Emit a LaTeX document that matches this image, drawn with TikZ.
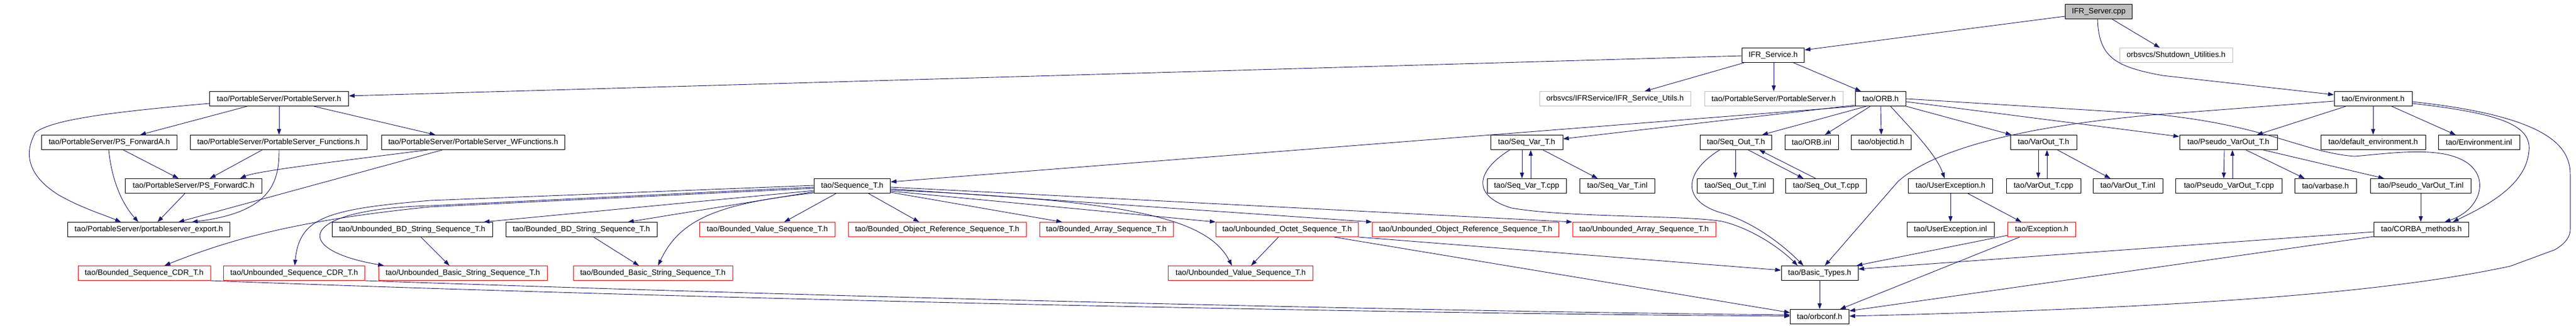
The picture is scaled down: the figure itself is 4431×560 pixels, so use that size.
\documentclass[tikz,border=0pt]{standalone}
\usepackage{fontspec}
\setmainfont{Liberation Sans}
\usetikzlibrary{arrows.meta}
\definecolor{edgec}{HTML}{191970}
\definecolor{grayc}{HTML}{BFBFBF}
\begin{document}
\begin{tikzpicture}[x=1pt,y=-1pt,
  box/.style={draw=black, line width=1pt, fill=white, minimum height=25pt, inner sep=0pt, font=\fontsize{13.3pt}{15pt}\selectfont},
  redbox/.style={box, draw=red},
  graybox/.style={box, draw=grayc},
  rootbox/.style={box, fill=grayc},
  dep/.style={draw=edgec, line width=0.9pt, -{Triangle[length=10pt,width=7pt]}},
]
\useasboundingbox (0,0) rectangle (4431,560);
\fill[white] (0,0) rectangle (4431,560);

% rank 0-2
\node[rootbox, minimum width=115pt] (server) at (3610,20) {IFR\_Server.cpp};
\node[box, minimum width=107pt] (svc) at (3050,95) {IFR\_Service.h};
\node[graybox, minimum width=194pt] (shut) at (3743,95) {orbsvcs/Shutdown\_Utilities.h};
\node[box, minimum width=239pt] (ps) at (480,170) {tao/PortableServer/PortableServer.h};
\node[graybox, minimum width=260pt] (utils) at (2778,170) {orbsvcs/IFRService/IFR\_Service\_Utils.h};
\node[graybox, minimum width=238pt] (psg) at (3051,170) {tao/PortableServer/PortableServer.h};
\node[box, minimum width=87pt] (orb) at (3235,170) {tao/ORB.h};
\node[box, minimum width=134pt] (env) at (4082,170) {tao/Environment.h};
% rank 3
\node[box, minimum width=233pt] (psfa) at (188,245) {tao/PortableServer/PS\_ForwardA.h};
\node[box, minimum width=304pt] (psfun) at (479,245) {tao/PortableServer/PortableServer\_Functions.h};
\node[box, minimum width=315pt] (pswf) at (814,245) {tao/PortableServer/PortableServer\_WFunctions.h};
\node[box, minimum width=124pt] (svar) at (2626,245) {tao/Seq\_Var\_T.h};
\node[box, minimum width=123pt] (sout) at (2986,245) {tao/Seq\_Out\_T.h};
\node[box, minimum width=92pt] (orbinl) at (3116,245) {tao/ORB.inl};
\node[box, minimum width=103pt] (oid) at (3236,245) {tao/objectid.h};
\node[box, minimum width=114pt] (vout) at (3515,245) {tao/VarOut\_T.h};
\node[box, minimum width=168pt] (pvout) at (3833,245) {tao/Pseudo\_VarOut\_T.h};
\node[box, minimum width=180pt] (defenv) at (4082,245) {tao/default\_environment.h};
\node[box, minimum width=140pt] (envinl) at (4264,245) {tao/Environment.inl};
% rank 4
\node[box, minimum width=235pt] (psfc) at (333,320) {tao/PortableServer/PS\_ForwardC.h};
\node[box, minimum width=131pt] (seqT) at (1466,320) {tao/Sequence\_T.h};
\node[box, minimum width=136pt] (svarcpp) at (2626,320) {tao/Seq\_Var\_T.cpp};
\node[box, minimum width=129pt] (svarinl) at (2782,320) {tao/Seq\_Var\_T.inl};
\node[box, minimum width=131pt] (soutinl) at (2985,320) {tao/Seq\_Out\_T.inl};
\node[box, minimum width=139pt] (soutcpp) at (3141,320) {tao/Seq\_Out\_T.cpp};
\node[box, minimum width=145pt] (uex) at (3355,320) {tao/UserException.h};
\node[box, minimum width=128pt] (voutcpp) at (3515,320) {tao/VarOut\_T.cpp};
\node[box, minimum width=120pt] (voutinl) at (3660,320) {tao/VarOut\_T.inl};
\node[box, minimum width=183pt] (pvcpp) at (3834,320) {tao/Pseudo\_VarOut\_T.cpp};
\node[box, minimum width=106pt] (vbase) at (4000,320) {tao/varbase.h};
\node[box, minimum width=173pt] (pvinl) at (4164,320) {tao/Pseudo\_VarOut\_T.inl};
% rank 5
\node[box, minimum width=279pt] (exp) at (256,395) {tao/PortableServer/portableserver\_export.h};
\node[box, minimum width=276pt] (ubds) at (709,395) {tao/Unbounded\_BD\_String\_Sequence\_T.h};
\node[box, minimum width=260pt] (bbds) at (1000,395) {tao/Bounded\_BD\_String\_Sequence\_T.h};
\node[redbox, minimum width=233pt] (bval) at (1320,395) {tao/Bounded\_Value\_Sequence\_T.h};
\node[redbox, minimum width=306pt] (bobj) at (1612,395) {tao/Bounded\_Object\_Reference\_Sequence\_T.h};
\node[redbox, minimum width=230pt] (barr) at (1903,395) {tao/Bounded\_Array\_Sequence\_T.h};
\node[redbox, minimum width=245pt] (uoct) at (2214,395) {tao/Unbounded\_Octet\_Sequence\_T.h};
\node[redbox, minimum width=321pt] (uobj) at (2521,395) {tao/Unbounded\_Object\_Reference\_Sequence\_T.h};
\node[redbox, minimum width=246pt] (uarr) at (2828,395) {tao/Unbounded\_Array\_Sequence\_T.h};
\node[box, minimum width=150pt] (uexinl) at (3355,395) {tao/UserException.inl};
\node[redbox, minimum width=117pt] (exc) at (3512,395) {tao/Exception.h};
\node[box, minimum width=163pt] (corba) at (4165,395) {tao/CORBA\_methods.h};
% rank 6
\node[redbox, minimum width=228pt] (bcdr) at (248,470) {tao/Bounded\_Sequence\_CDR\_T.h};
\node[redbox, minimum width=243pt] (ucdr) at (506,470) {tao/Unbounded\_Sequence\_CDR\_T.h};
\node[redbox, minimum width=290pt] (ubs) at (796,470) {tao/Unbounded\_Basic\_String\_Sequence\_T.h};
\node[redbox, minimum width=274pt] (bbs) at (1123,470) {tao/Bounded\_Basic\_String\_Sequence\_T.h};
\node[redbox, minimum width=249pt] (uval) at (2134,470) {tao/Unbounded\_Value\_Sequence\_T.h};
\node[box, minimum width=132pt] (btypes) at (3130,470) {tao/Basic\_Types.h};
% rank 7
\node[box, minimum width=101pt] (orbconf) at (3130,545) {tao/orbconf.h};

% IFR_Server.cpp
\draw[dep] ([yshift=-8pt]server.west) -- ([yshift=9pt]svc.east);
\draw[dep] ([xshift=23pt]server.south) -- ([xshift=-28pt]shut.north);
\draw[dep] ([xshift=-2pt]server.south) .. controls (3610,100) and (3640,115) .. (3720,130) -- ([yshift=7pt]env.west);
% IFR_Service.h
\draw[dep] ([yshift=-1pt]svc.west) -- ([yshift=5pt]ps.east);
\draw[dep] ([xshift=-50pt]svc.south) -- ([xshift=51pt]utils.north);
\draw[dep] ([xshift=1pt]svc.south) -- (psg.north);
\draw[dep] ([xshift=35pt]svc.south) -- ([xshift=-34pt]orb.north);
% PortableServer.h
\draw[dep] ([yshift=-8pt]ps.west) .. controls (200,192) and (90,205) .. (61,228) .. controls (42,262) and (45,300) .. (100,335) .. controls (140,358) and (180,370) .. ([xshift=-48pt]exp.north);
\draw[dep] ([xshift=-55pt]ps.south) -- ([xshift=53pt]psfa.north);
\draw[dep] (ps.south) -- ([xshift=1pt]psfun.north);
\draw[dep] ([xshift=60pt]ps.south) -- ([xshift=-65pt]pswf.north);
\draw[dep] ([xshift=24pt]psfa.south) -- ([xshift=-26pt]psfc.north);
\draw[dep] ([xshift=-1pt]psfa.south) .. controls (191,300) and (205,345) .. ([xshift=-18pt]exp.north);
\draw[dep] ([xshift=-28pt]psfun.south) -- ([xshift=28pt]psfc.north);
\draw[dep] ([xshift=1pt]psfun.south) .. controls (480,310) and (470,365) .. ([xshift=74pt]exp.north);
\draw[dep] ([xshift=-78pt]pswf.south) .. controls (560,280) and (440,295) .. ([xshift=80pt]psfc.north);
\draw[dep] ([xshift=-53pt]pswf.south) -- ([xshift=51pt]exp.north);
\draw[dep] ([xshift=-15pt]psfc.south) -- ([xshift=15pt]exp.north);
% ORB.h
\draw[dep] ([yshift=-11pt]orb.west) -- ([yshift=6pt]svar.east);
\draw[dep] (orb.south west) -- ([yshift=7pt]seqT.east);
\draw[dep] ([xshift=-25pt]orb.south) -- ([xshift=45pt]sout.north);
\draw[dep] ([xshift=-18pt]orb.south) -- ([xshift=23pt]orbinl.north);
\draw[dep] (orb.south) -- (oid.north);
\draw[dep] ([xshift=17pt]orb.south) .. controls (3290,225) and (3330,265) .. ([xshift=-10pt]uex.north);
\draw[dep] (orb.south east) -- ([xshift=-55pt]vout.north);
\draw[dep] ([yshift=-5pt]orb.east) -- ([yshift=10pt]pvout.west);
\draw[dep] (orb.east) -- (3700,196) .. controls (3900,215) and (3960,262) .. (4050,269) .. controls (4110,264) and (4190,252) .. (4235,275) .. controls (4285,300) and (4270,360) .. ([xshift=40pt]corba.north);
% Environment.h
\draw[dep] ([yshift=-4pt]env.west) -- (3700,198) .. controls (3480,218) and (3330,255) .. (3265,312) -- ([xshift=9pt]btypes.north);
\draw[dep] ([xshift=-47pt]env.south) -- ([xshift=49pt]pvout.north);
\draw[dep] (env.south) -- (defenv.north);
\draw[dep] ([xshift=32pt]env.south) -- ([xshift=-40pt]envinl.north);
\draw[dep] ([yshift=-8pt]env.east) .. controls (4300,195) and (4355,215) .. (4350,260) .. controls (4345,320) and (4275,355) .. ([xshift=54pt]corba.north);
\draw[dep] ([yshift=-5pt]env.east) .. controls (4380,200) and (4421,250) .. (4421,300) -- (4421,395) .. controls (4421,412) and (4405,424) .. (4394,430) -- (4318,458) .. controls (4100,505) and (3750,530) .. ([yshift=1pt]orbconf.east);
% Pseudo_VarOut_T.h
\draw[dep] ([xshift=-7pt]pvout.south) -- ([xshift=-9pt]pvcpp.north);
\draw[dep] ([xshift=6pt]pvcpp.north) -- ([xshift=7pt]pvout.south);
\draw[dep] ([xshift=30pt]pvout.south) -- ([xshift=-36pt]vbase.north);
\draw[dep] ([xshift=60pt]pvout.south) -- ([xshift=-63pt]pvinl.north);
\draw[dep] (pvinl.south) -- ([xshift=-1pt]corba.north);
% CORBA_methods.h
\draw[dep] ([yshift=-4pt]corba.west) -- ([yshift=7pt]btypes.east);
\draw[dep] ([yshift=-12pt]corba.west) -- ([yshift=10pt]orbconf.east);
% Exception / UserException
\draw[dep] ([yshift=-10pt]exc.west) -- ([xshift=-3pt]btypes.north east);
\draw[dep] ([xshift=-38pt]exc.south) -- ([xshift=35pt]orbconf.north);
\draw[dep] (uex.south) -- (uexinl.north);
\draw[dep] ([xshift=30pt]uex.south) -- ([xshift=-35pt]exc.north);
% VarOut_T.h
\draw[dep] ([xshift=-9pt]vout.south) -- ([xshift=-9pt]voutcpp.north);
\draw[dep] ([xshift=6pt]voutcpp.north) -- ([xshift=6pt]vout.south);
\draw[dep] ([xshift=24pt]vout.south) -- ([xshift=-30pt]voutinl.north);
% Seq_Out_T.h
\draw[dep] ([xshift=-1pt]sout.south) -- (soutinl.north);
\draw[dep] ([xshift=21pt]sout.south) -- ([xshift=-39pt]soutcpp.north);
\draw[dep] ([xshift=-18pt]soutcpp.north) -- ([xshift=40pt]sout.south);
\draw[dep] ([xshift=-28pt]sout.south) .. controls (2898,295) and (2890,345) .. (2960,366) .. controls (3010,380) and (3060,415) .. ([xshift=-28pt]btypes.north);
% Seq_Var_T.h
\draw[dep] ([xshift=-8pt]svar.south) -- ([xshift=-8pt]svarcpp.north);
\draw[dep] ([xshift=7pt]svarcpp.north) -- ([xshift=7pt]svar.south);
\draw[dep] ([xshift=28pt]svar.south) -- ([xshift=-34pt]svarinl.north);
\draw[dep] ([xshift=-29pt]svar.south) .. controls (2545,290) and (2525,335) .. (2600,358) .. controls (2700,375) and (2900,370) .. (2962,381) .. controls (3010,392) and (3060,425) .. ([xshift=-38pt]btypes.north);
% Sequence_T.h
\draw[dep] ([yshift=-8pt]seqT.west) -- ([xshift=123pt]ubds.north);
\draw[dep] ([yshift=-10pt]seqT.west) -- ([xshift=80pt]bbds.north);
\draw[dep] ([yshift=-12pt]seqT.west) .. controls (1240,350) and (1170,375) .. ([xshift=9pt]bbs.north);
\draw[dep] ([xshift=-28pt]seqT.south) -- ([xshift=29pt]bval.north);
\draw[dep] ([yshift=1pt]seqT.west) -- (740,345) .. controls (560,360) and (515,375) .. ([xshift=1pt]ucdr.north);
\draw[dep] ([yshift=-2pt]seqT.west) -- (740,354) .. controls (510,360) and (500,430) .. ([xshift=10pt]ubs.north west);
\draw[dep] ([yshift=-4pt]seqT.west) -- (740,356) .. controls (520,378) and (400,410) .. ([xshift=35pt]bcdr.north);
\draw[dep] ([xshift=28pt]seqT.south) -- ([xshift=-31pt]bobj.north);
\draw[dep] ([yshift=-11pt]seqT.east) -- ([xshift=-76pt]barr.north);
\draw[dep] ([yshift=-9pt]seqT.east) -- (uoct.north west);
\draw[dep] ([yshift=-7pt]seqT.east) .. controls (1930,345) and (2075,372) .. ([xshift=-15pt]uval.north);
\draw[dep] ([yshift=-5pt]seqT.east) -- (uobj.north west);
\draw[dep] ([yshift=-2pt]seqT.east) -- (uarr.north west);
% Unbounded_Octet_Sequence_T.h
\draw[dep] ([xshift=-15pt]uoct.south) -- ([xshift=18pt]uval.north);
\draw[dep] (uoct.south east) -- ([yshift=5pt]btypes.west);
\draw[dep] ([xshift=81pt]uoct.south) -- ([yshift=7pt]orbconf.west);
% BD strings
\draw[dep] ([xshift=15pt]ubds.south) -- ([xshift=-23pt]ubs.north);
\draw[dep] ([xshift=21pt]bbds.south) -- ([xshift=-24pt]bbs.north);
% bottom
\draw[dep] (btypes.south) -- (orbconf.north);
\draw[dep] (bcdr.south east) .. controls (1200,515) and (2400,540) .. ([yshift=1pt]orbconf.west);
\draw[dep] (ucdr.south east) .. controls (1400,510) and (2400,535) .. ([yshift=3pt]orbconf.west);
\end{tikzpicture}
\end{document}
